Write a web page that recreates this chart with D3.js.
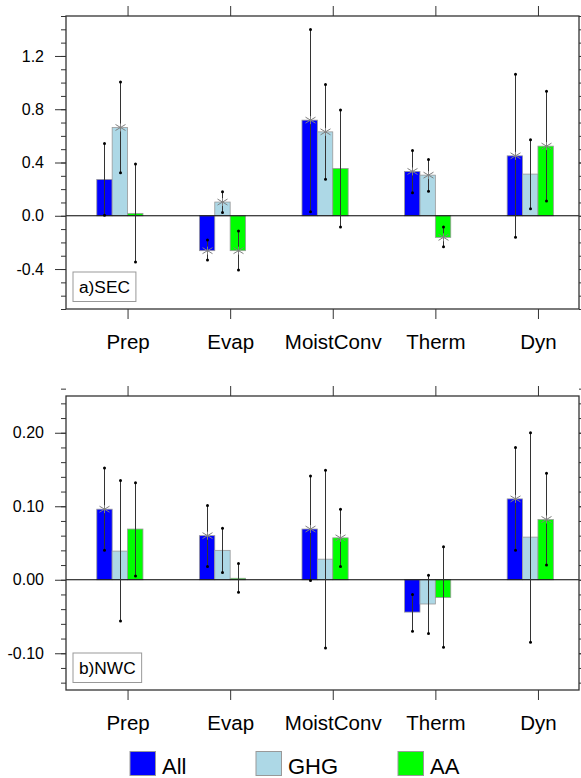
<!DOCTYPE html>
<html>
<head>
<meta charset="utf-8">
<script src="https://cdn.jsdelivr.net/npm/d3@7"></script>
<style>
  body { margin: 0; background: #fff; }
  svg { display: block; font-family: 'Liberation Sans', Arial, sans-serif; }
</style>
</head>
<body>
<svg id="chart"></svg>
<script>
const w = 581;
const h = 778;

const categories = ['Prep', 'Evap', 'MoistConv', 'Therm', 'Dyn'];
const seriesNames = ['All', 'GHG', 'AA'];
const colors = ['#0000ff', '#add8e6', '#00ff00'];

// panel a) SEC
const secAll = [0.273, -0.262, 0.718, 0.333, 0.45];
const secAllHi = [0.543, -0.182, 1.398, 0.49, 1.063];
const secAllLo = [0.003, -0.332, 0.03, 0.173, -0.162];
const secGhg = [0.663, 0.103, 0.63, 0.305, 0.313];
const secGhgHi = [1.005, 0.18, 0.985, 0.423, 0.57];
const secGhgLo = [0.323, 0.025, 0.275, 0.185, 0.053];
const secAa = [0.018, -0.262, 0.355, -0.162, 0.523];
const secAaHi = [0.388, -0.115, 0.795, -0.085, 0.935];
const secAaLo = [-0.347, -0.407, -0.085, -0.232, 0.11];
const secSig = [[0, 1, 1, 1, 1], [1, 1, 1, 1, 0], [0, 1, 0, 1, 1]];
const secTicks = [-0.4, 0.0, 0.4, 0.8, 1.2];

// panel b) NWC
const nwcAll = [0.096, 0.06, 0.069, -0.044, 0.11];
const nwcAllHi = [0.152, 0.101, 0.141, -0.02, 0.18];
const nwcAllLo = [0.04, 0.018, -0.001, -0.07, 0.04];
const nwcGhg = [0.039, 0.04, 0.028, -0.033, 0.058];
const nwcGhgHi = [0.135, 0.07, 0.149, 0.006, 0.2];
const nwcGhgLo = [-0.056, 0.01, -0.093, -0.073, -0.085];
const nwcAa = [0.069, 0.002, 0.057, -0.024, 0.082];
const nwcAaHi = [0.132, 0.022, 0.096, 0.045, 0.145];
const nwcAaLo = [0.005, -0.017, 0.018, -0.092, 0.02];
const nwcSig = [[1, 1, 1, 0, 1], [0, 0, 0, 0, 0], [0, 0, 1, 0, 1]];
const nwcTicks = [-0.1, 0.0, 0.1, 0.2];

const panels = [
	{
		label: 'a)SEC', top: 16, bottom: 309, domain: [-0.7, 1.5],
		ticks: secTicks, minorStep: 0.1, digits: 1,
		vals: [secAll, secGhg, secAa], hi: [secAllHi, secGhgHi, secAaHi],
		lo: [secAllLo, secGhgLo, secAaLo], sig: secSig
	},
	{
		label: 'b)NWC', top: 396, bottom: 690, domain: [-0.15, 0.25],
		ticks: nwcTicks, minorStep: 0.02, digits: 2,
		vals: [nwcAll, nwcGhg, nwcAa], hi: [nwcAllHi, nwcGhgHi, nwcAaHi],
		lo: [nwcAllLo, nwcGhgLo, nwcAaLo], sig: nwcSig
	}
];

const left = 66;
const right = 579;
const barW = 0.15;

let canvas = d3.select('#chart').attr('width', w).attr('height', h);

const xScale = d3.scaleLinear().domain([0.4, 5.4]).range([left, right]);

const drawPanel = (p) => {
	const yScale = d3.scaleLinear().domain(p.domain).range([p.bottom, p.top]);
	const g = canvas.append('g');

	const rows = [];
	p.vals.forEach((arr, s) => {
		arr.forEach((v, i) => {
			rows.push({ s: s, i: i, v: v, hi: p.hi[s][i], lo: p.lo[s][i], sig: p.sig[s][i] });
		});
	});
	const barLeft = (d) => d.i + 1 + (d.s - 2) * barW;
	const cx = (d) => Math.round(xScale(barLeft(d) + barW / 2)) + 0.5;

	g.selectAll('rect.bar')
		.data(rows)
		.enter()
		.append('rect')
		.attr('class', 'bar')
		.attr('x', (d) => xScale(barLeft(d)))
		.attr('width', xScale(barW) - xScale(0))
		.attr('y', (d) => yScale(Math.max(0, d.v)))
		.attr('height', (d) => Math.abs(yScale(d.v) - yScale(0)))
		.attr('fill', (d) => colors[d.s])
		.attr('stroke', '#999')
		.attr('stroke-width', 0.8);

	g.append('line')
		.attr('x1', left).attr('x2', right)
		.attr('y1', yScale(0)).attr('y2', yScale(0))
		.attr('stroke', '#000').attr('stroke-width', 1);

	// error bars
	g.selectAll('line.err')
		.data(rows)
		.enter()
		.append('line')
		.attr('class', 'err')
		.attr('x1', cx).attr('x2', cx)
		.attr('y1', (d) => yScale(d.hi))
		.attr('y2', (d) => yScale(d.lo))
		.attr('stroke', '#333')
		.attr('stroke-width', 1);

	['hi', 'lo'].forEach((k) => {
		g.selectAll('circle.' + k)
			.data(rows)
			.enter()
			.append('circle')
			.attr('class', k)
			.attr('cx', cx)
			.attr('cy', (d) => yScale(d[k]))
			.attr('r', 1.5)
			.attr('fill', '#000');
	});

	// significance asterisks
	const star = g.selectAll('g.star')
		.data(rows.filter((d) => d.sig))
		.enter()
		.append('g')
		.attr('class', 'star')
		.attr('transform', (d) => `translate(${cx(d)},${yScale(d.v)})`)
		.attr('stroke', '#808080')
		.attr('stroke-width', 1);
	star.append('line').attr('x1', 0).attr('x2', 0).attr('y1', -4).attr('y2', 4);
	star.append('line').attr('x1', -5).attr('x2', 5).attr('y1', -3).attr('y2', 3);
	star.append('line').attr('x1', -5).attr('x2', 5).attr('y1', 3).attr('y2', -3);

	// axes
	const minor = d3.range(Math.round(p.domain[0] / p.minorStep), Math.round(p.domain[1] / p.minorStep) + 1)
		.map((k) => k * p.minorStep);
	const fmt = (d) => d.toFixed(p.digits);

	const yAxis = g.append('g')
		.attr('transform', `translate(${left},0)`)
		.call(d3.axisLeft(yScale).tickValues(p.ticks).tickFormat(fmt).tickSize(11).tickPadding(11));
	yAxis.selectAll('text').attr('font-size', 16).attr('fill', '#000').attr('font-family', null);
	g.append('g')
		.attr('transform', `translate(${left},0)`)
		.call(d3.axisLeft(yScale).tickValues(minor).tickFormat('').tickSize(5));
	g.append('g')
		.attr('transform', `translate(${right},0)`)
		.call(d3.axisRight(yScale).tickValues(p.ticks).tickFormat('').tickSize(11));
	g.append('g')
		.attr('transform', `translate(${right},0)`)
		.call(d3.axisRight(yScale).tickValues(minor).tickFormat('').tickSize(5));

	const catPos = categories.map((c, i) => i + 1);
	g.append('g')
		.attr('transform', `translate(0,${p.top})`)
		.call(d3.axisTop(xScale).tickValues(catPos).tickFormat('').tickSize(10));
	const xAxis = g.append('g')
		.attr('transform', `translate(0,${p.bottom})`)
		.call(d3.axisBottom(xScale).tickValues(catPos).tickFormat((d) => categories[d - 1]).tickSize(10));
	xAxis.selectAll('text')
		.attr('y', 40).attr('dy', 0)
		.attr('font-size', 20.5).attr('fill', '#000').attr('font-family', null);

	g.selectAll('.domain').remove();
	g.selectAll('.tick line').attr('stroke', '#333');

	g.append('rect')
		.attr('x', left).attr('y', p.top)
		.attr('width', right - left).attr('height', p.bottom - p.top)
		.attr('fill', 'none').attr('stroke', '#333').attr('stroke-width', 1.3);

	// panel label
	const lbl = g.append('g').attr('transform', `translate(${left + 7},${p.bottom - 37})`);
	const txt = lbl.append('text')
		.attr('x', 6).attr('y', 21)
		.attr('font-size', 17.3)
		.text(p.label);
	const tw = txt.node().getComputedTextLength();
	lbl.insert('rect', 'text')
		.attr('width', tw + 12).attr('height', 29.5)
		.attr('fill', '#fff').attr('stroke', '#999').attr('stroke-width', 1);
};

panels.forEach(drawPanel);

// legend
const legendX = [130, 256, 398];
const legend = canvas.append('g');
seriesNames.forEach((name, s) => {
	legend.append('rect')
		.attr('x', legendX[s]).attr('y', 751.5)
		.attr('width', 25.5).attr('height', 24)
		.attr('fill', colors[s]).attr('stroke', '#999').attr('stroke-width', 1);
	legend.append('text')
		.attr('x', legendX[s] + 32).attr('y', 773.5)
		.attr('font-size', 22)
		.text(name);
});
</script>
</body>
</html>
